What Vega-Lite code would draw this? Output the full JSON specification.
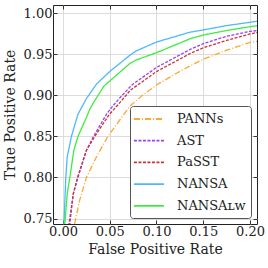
{
  "$schema": "https://vega.github.io/schema/vega-lite/v6.json",
  "autosize": {"type": "none"},
  "padding": {"left": 53, "top": 5, "right": 11, "bottom": 44},
  "width": 204,
  "height": 219,
  "background": "white",
  "config": {
    "font": "DejaVu Serif",
    "view": {"stroke": "#222", "strokeWidth": 1},
    "axis": {
      "labelFont": "DejaVu Serif", "titleFont": "DejaVu Serif",
      "labelFontSize": 13, "titleFontSize": 14, "labelColor": "#222", "titleColor": "#222",
      "titleFontWeight": "normal", "gridColor": "#d8d8d8", "gridWidth": 0.9,
      "tickColor": "#333", "tickSize": -4, "domain": false, "labelPadding": 5
    },
    "legend": {
      "labelFont": "DejaVu Serif", "labelFontSize": 13, "labelColor": "#222"
    }
  },
  "data": {"values": [
    {"model": "PANNs", "fpr": 0.011, "tpr": 0.73},
    {"model": "PANNs", "fpr": 0.0125, "tpr": 0.744},
    {"model": "PANNs", "fpr": 0.0178, "tpr": 0.772},
    {"model": "PANNs", "fpr": 0.025, "tpr": 0.80},
    {"model": "PANNs", "fpr": 0.0357, "tpr": 0.825},
    {"model": "PANNs", "fpr": 0.048, "tpr": 0.85},
    {"model": "PANNs", "fpr": 0.0607, "tpr": 0.87},
    {"model": "PANNs", "fpr": 0.0717, "tpr": 0.887},
    {"model": "PANNs", "fpr": 0.085, "tpr": 0.90},
    {"model": "PANNs", "fpr": 0.10, "tpr": 0.9126},
    {"model": "PANNs", "fpr": 0.12, "tpr": 0.926},
    {"model": "PANNs", "fpr": 0.136, "tpr": 0.936},
    {"model": "PANNs", "fpr": 0.15, "tpr": 0.944},
    {"model": "PANNs", "fpr": 0.175, "tpr": 0.955},
    {"model": "PANNs", "fpr": 0.20, "tpr": 0.9646},
    {"model": "PANNs", "fpr": 0.209, "tpr": 0.966},
    {"model": "AST", "fpr": 0.006, "tpr": 0.73},
    {"model": "AST", "fpr": 0.0073, "tpr": 0.744},
    {"model": "AST", "fpr": 0.011, "tpr": 0.78},
    {"model": "AST", "fpr": 0.016, "tpr": 0.80},
    {"model": "AST", "fpr": 0.025, "tpr": 0.833},
    {"model": "AST", "fpr": 0.0326, "tpr": 0.85},
    {"model": "AST", "fpr": 0.047, "tpr": 0.878},
    {"model": "AST", "fpr": 0.054, "tpr": 0.888},
    {"model": "AST", "fpr": 0.0616, "tpr": 0.898},
    {"model": "AST", "fpr": 0.074, "tpr": 0.913},
    {"model": "AST", "fpr": 0.10, "tpr": 0.934},
    {"model": "AST", "fpr": 0.136, "tpr": 0.956},
    {"model": "AST", "fpr": 0.15, "tpr": 0.963},
    {"model": "AST", "fpr": 0.175, "tpr": 0.972},
    {"model": "AST", "fpr": 0.20, "tpr": 0.978},
    {"model": "AST", "fpr": 0.209, "tpr": 0.979},
    {"model": "PaSST", "fpr": 0.005, "tpr": 0.73},
    {"model": "PaSST", "fpr": 0.0065, "tpr": 0.744},
    {"model": "PaSST", "fpr": 0.011, "tpr": 0.78},
    {"model": "PaSST", "fpr": 0.0155, "tpr": 0.80},
    {"model": "PaSST", "fpr": 0.025, "tpr": 0.833},
    {"model": "PaSST", "fpr": 0.034, "tpr": 0.85},
    {"model": "PaSST", "fpr": 0.049, "tpr": 0.876},
    {"model": "PaSST", "fpr": 0.063, "tpr": 0.894},
    {"model": "PaSST", "fpr": 0.0717, "tpr": 0.906},
    {"model": "PaSST", "fpr": 0.10, "tpr": 0.929},
    {"model": "PaSST", "fpr": 0.136, "tpr": 0.951},
    {"model": "PaSST", "fpr": 0.15, "tpr": 0.958},
    {"model": "PaSST", "fpr": 0.175, "tpr": 0.967},
    {"model": "PaSST", "fpr": 0.20, "tpr": 0.9748},
    {"model": "PaSST", "fpr": 0.209, "tpr": 0.977},
    {"model": "NANSA", "fpr": 0.0, "tpr": 0.73},
    {"model": "NANSA", "fpr": 0.001, "tpr": 0.744},
    {"model": "NANSA", "fpr": 0.003, "tpr": 0.80},
    {"model": "NANSA", "fpr": 0.0045, "tpr": 0.825},
    {"model": "NANSA", "fpr": 0.009, "tpr": 0.85},
    {"model": "NANSA", "fpr": 0.016, "tpr": 0.877},
    {"model": "NANSA", "fpr": 0.0217, "tpr": 0.889},
    {"model": "NANSA", "fpr": 0.025, "tpr": 0.896},
    {"model": "NANSA", "fpr": 0.036, "tpr": 0.914},
    {"model": "NANSA", "fpr": 0.050, "tpr": 0.929},
    {"model": "NANSA", "fpr": 0.064, "tpr": 0.942},
    {"model": "NANSA", "fpr": 0.0717, "tpr": 0.949},
    {"model": "NANSA", "fpr": 0.078, "tpr": 0.954},
    {"model": "NANSA", "fpr": 0.10, "tpr": 0.965},
    {"model": "NANSA", "fpr": 0.136, "tpr": 0.977},
    {"model": "NANSA", "fpr": 0.15, "tpr": 0.9797},
    {"model": "NANSA", "fpr": 0.175, "tpr": 0.985},
    {"model": "NANSA", "fpr": 0.20, "tpr": 0.989},
    {"model": "NANSA", "fpr": 0.209, "tpr": 0.9906},
    {"model": "NANSAʟᴡ", "fpr": 0.001, "tpr": 0.73},
    {"model": "NANSAʟᴡ", "fpr": 0.002, "tpr": 0.744},
    {"model": "NANSAʟᴡ", "fpr": 0.0045, "tpr": 0.78},
    {"model": "NANSAʟᴡ", "fpr": 0.0073, "tpr": 0.80},
    {"model": "NANSAʟᴡ", "fpr": 0.0116, "tpr": 0.833},
    {"model": "NANSAʟᴡ", "fpr": 0.016, "tpr": 0.85},
    {"model": "NANSAʟᴡ", "fpr": 0.025, "tpr": 0.873},
    {"model": "NANSAʟᴡ", "fpr": 0.029, "tpr": 0.884},
    {"model": "NANSAʟᴡ", "fpr": 0.0326, "tpr": 0.891},
    {"model": "NANSAʟᴡ", "fpr": 0.0435, "tpr": 0.911},
    {"model": "NANSAʟᴡ", "fpr": 0.0616, "tpr": 0.929},
    {"model": "NANSAʟᴡ", "fpr": 0.0717, "tpr": 0.939},
    {"model": "NANSAʟᴡ", "fpr": 0.078, "tpr": 0.943},
    {"model": "NANSAʟᴡ", "fpr": 0.10, "tpr": 0.952},
    {"model": "NANSAʟᴡ", "fpr": 0.136, "tpr": 0.969},
    {"model": "NANSAʟᴡ", "fpr": 0.15, "tpr": 0.9735},
    {"model": "NANSAʟᴡ", "fpr": 0.175, "tpr": 0.979},
    {"model": "NANSAʟᴡ", "fpr": 0.20, "tpr": 0.9837},
    {"model": "NANSAʟᴡ", "fpr": 0.209, "tpr": 0.985}
  ]},
  "layer": [
    {
      "mark": {"type": "line", "clip": true, "strokeWidth": 1.3},
      "encoding": {
        "x": {"field": "fpr", "type": "quantitative", "title": "False Positive Rate",
              "scale": {"domain": [-0.0107, 0.2075], "nice": false, "zero": false},
              "axis": {"values": [0, 0.05, 0.1, 0.15, 0.2], "format": ".2f", "orient": "bottom"}},
        "y": {"field": "tpr", "type": "quantitative", "title": "True Positive Rate",
              "scale": {"domain": [0.7433, 1.0101], "nice": false, "zero": false},
              "axis": {"values": [0.75, 0.8, 0.85, 0.9, 0.95, 1.0], "format": ".2f", "orient": "left", "titlePadding": 6}},
        "color": {"field": "model", "type": "nominal",
                  "scale": {"domain": ["PANNs", "AST", "PaSST", "NANSA", "NANSAʟᴡ"],
                            "range": ["#ffa733", "#9a3dff", "#cc3333", "#4db8ff", "#3ded3d"]},
                  "legend": {"title": null, "orient": "bottom-right", "offset": 6.5,
                             "symbolType": "M-2.15,0L2.15,0", "symbolSize": 196, "symbolStrokeWidth": 1.8,
                             "symbolOffset": 6, "labelOffset": 20,
                             "fillColor": "white", "strokeColor": "#555", "cornerRadius": 3,
                             "padding": 5, "rowPadding": 6.7}},
        "strokeDash": {"field": "model", "type": "nominal",
                       "scale": {"domain": ["PANNs", "AST", "PaSST", "NANSA", "NANSAʟᴡ"],
                                 "range": [[6, 2, 1, 2], [3, 1.5], [3, 1.5], [1, 0], [1, 0]]},
                       "legend": null},
        "order": {"field": "fpr", "type": "quantitative"}
      }
    },
    {
      "mark": {"type": "line", "clip": true, "opacity": 0},
      "encoding": {
        "x": {"field": "fpr", "type": "quantitative",
              "axis": {"orient": "top", "values": [0, 0.05, 0.1, 0.15, 0.2], "labels": false, "grid": false, "title": null}},
        "y": {"field": "tpr", "type": "quantitative",
              "axis": {"orient": "right", "values": [0.75, 0.8, 0.85, 0.9, 0.95, 1.0], "labels": false, "grid": false, "title": null}},
        "detail": {"field": "model", "type": "nominal"}
      }
    }
  ],
  "resolve": {"axis": {"x": "independent", "y": "independent"}}
}
